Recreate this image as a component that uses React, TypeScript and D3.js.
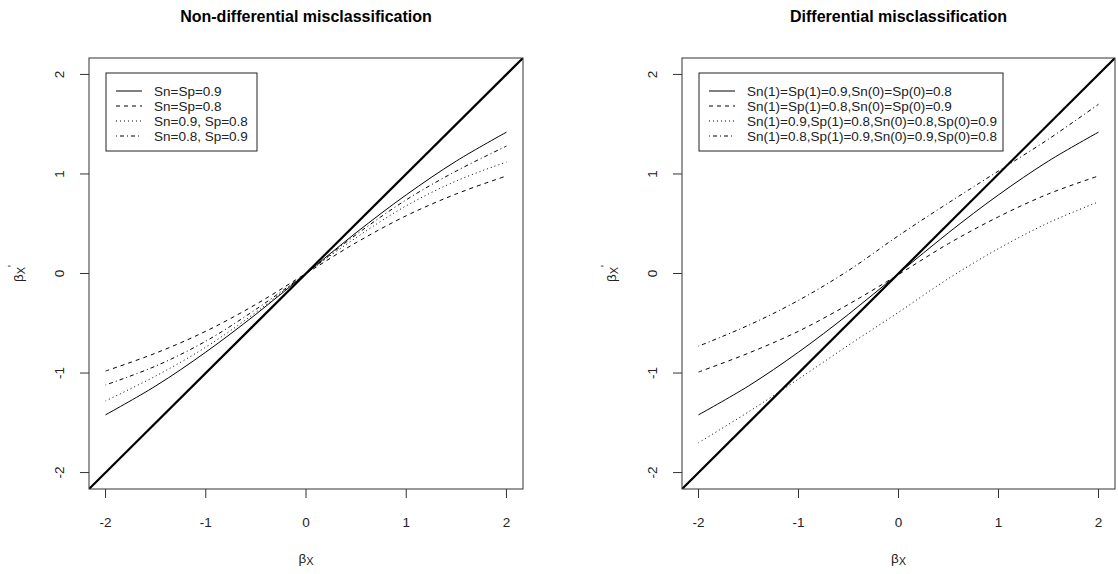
import React from "react";
import * as d3 from "d3";

const xVals = [-2, -1.5, -1, -0.5, 0, 0.5, 1, 1.5, 2];

// Non-differential misclassification
const ndSn9Sp9 = [-1.42, -1.13, -0.79, -0.41, 0, 0.41, 0.79, 1.13, 1.42];
const ndSn8Sp8 = [-0.98, -0.8, -0.58, -0.31, 0, 0.31, 0.58, 0.8, 0.98];
const ndSn9Sp8 = [-1.28, -1.03, -0.74, -0.39, 0, 0.36, 0.68, 0.93, 1.12];
const ndSn8Sp9 = [-1.12, -0.93, -0.68, -0.36, 0, 0.39, 0.74, 1.03, 1.28];

// Differential misclassification
const dA = [-1.42, -1.13, -0.79, -0.41, 0, 0.41, 0.79, 1.13, 1.42];
const dB = [-0.99, -0.8, -0.58, -0.31, -0.01, 0.3, 0.57, 0.8, 0.98];
const dC = [-1.7, -1.39, -1.06, -0.72, -0.39, -0.05, 0.25, 0.51, 0.72];
const dD = [-0.73, -0.52, -0.27, 0.03, 0.38, 0.71, 1.03, 1.35, 1.7];

const ticks = [-2, -1, 0, 1, 2];
const tickLabels = ["-2", "-1", "0", "1", "2"];

const ndLabels = ["Sn=Sp=0.9", "Sn=Sp=0.8", "Sn=0.9, Sp=0.8", "Sn=0.8, Sp=0.9"];
const dLabels = [
  "Sn(1)=Sp(1)=0.9,Sn(0)=Sp(0)=0.8",
  "Sn(1)=Sp(1)=0.8,Sn(0)=Sp(0)=0.9",
  "Sn(1)=0.9,Sp(1)=0.8,Sn(0)=0.8,Sp(0)=0.9",
  "Sn(1)=0.8,Sp(1)=0.9,Sn(0)=0.9,Sp(0)=0.8",
];

const dashes = [null, "4,4", "1,3", "1,3,4,3"];
const FONT = "'Liberation Sans', Arial, Helvetica, sans-serif";

type PanelProps = {
  title: string;
  left: number;
  right: number;
  series: number[][];
  labels: string[];
  legendW: number;
  id: string;
};

function Panel({ title, left, right, series, labels, legendW, id }: PanelProps) {
  const top = 58;
  const bottom = 489;
  const dom = 2.165;
  const x = d3.scaleLinear().domain([-dom, dom]).range([left, right]);
  const y = d3.scaleLinear().domain([-dom, dom]).range([bottom, top]);
  const line = d3
    .line<number>()
    .x((_, i) => x(xVals[i]))
    .y((d) => y(d))
    .curve(d3.curveCatmullRom.alpha(0.5));
  const cx = (left + right) / 2;
  const cy = (top + bottom) / 2;
  const lgLeft = left + 17;
  const lgTop = 73;
  const lgStep = 15;
  const lgFirst = 91;
  const lgBottom = lgFirst + lgStep * (labels.length - 1) + 15;
  return (
    <g>
      <defs>
        <clipPath id={id}>
          <rect x={left} y={top} width={right - left} height={bottom - top} />
        </clipPath>
      </defs>
      <text x={cx} y={16} textAnchor="middle" dominantBaseline="central" fontWeight="bold" fontSize={16} fontFamily={FONT}>
        {title}
      </text>
      <g clipPath={`url(#${id})`}>
        <line x1={x(-dom)} y1={y(-dom)} x2={x(dom)} y2={y(dom)} stroke="#000" strokeWidth={2.2} />
        {series.map((s, i) => (
          <path key={i} d={line(s) || ""} fill="none" stroke="#000" strokeWidth={1} strokeDasharray={dashes[i] || undefined} />
        ))}
      </g>
      <rect x={left} y={top} width={right - left} height={bottom - top} fill="none" stroke="#333" strokeWidth={1} />
      {ticks.map((t, i) => (
        <g key={"x" + i}>
          <line x1={x(t)} x2={x(t)} y1={bottom} y2={bottom + 9} stroke="#333" />
          <text x={x(t)} y={522} textAnchor="middle" dominantBaseline="central" fontSize={13.5} fontFamily={FONT} fill="#222">
            {tickLabels[i]}
          </text>
        </g>
      ))}
      {ticks.map((t, i) => (
        <g key={"y" + i}>
          <line x1={left - 9} x2={left} y1={y(t)} y2={y(t)} stroke="#333" />
          <text
            transform={`translate(${left - 30},${y(t)}) rotate(-90)`}
            textAnchor="middle"
            dominantBaseline="central"
            fontSize={13.5}
            fontFamily={FONT}
            fill="#222"
          >
            {tickLabels[i]}
          </text>
        </g>
      ))}
      <text x={cx} y={558} textAnchor="middle" dominantBaseline="central" fontSize={13.5} fontFamily={FONT} fill="#222">
        β<tspan dy={3} fontSize={11}>X</tspan>
      </text>
      <text
        transform={`translate(${left - 71},${cy}) rotate(-90)`}
        textAnchor="middle"
        dominantBaseline="central"
        fontSize={13.5}
        fontFamily={FONT}
        fill="#222"
      >
        β<tspan dy={3} fontSize={11}>X</tspan>
        <tspan dy={-9} fontSize={10}>'</tspan>
      </text>
      <rect x={lgLeft} y={lgTop} width={legendW} height={lgBottom - lgTop} fill="#fff" stroke="#222" strokeWidth={1} />
      {labels.map((lab, i) => (
        <g key={"l" + i}>
          <line
            x1={lgLeft + 10}
            x2={lgLeft + 36}
            y1={lgFirst + i * lgStep}
            y2={lgFirst + i * lgStep}
            stroke="#000"
            strokeDasharray={dashes[i] || undefined}
          />
          <text x={lgLeft + 48} y={lgFirst + i * lgStep} dominantBaseline="central" fontSize={13.5} fontFamily={FONT} fill="#222">
            {lab}
          </text>
        </g>
      ))}
    </g>
  );
}

export default function App() {
  return (
    <div style={{ position: "absolute", left: 0, top: 0, background: "#fff" }}>
      <svg width={1118} height={574} style={{ display: "block" }}>
        <rect width={1118} height={574} fill="#fff" />
        <Panel
          id="c1"
          title="Non-differential misclassification"
          left={89}
          right={523}
          series={[ndSn9Sp9, ndSn8Sp8, ndSn9Sp8, ndSn8Sp9]}
          labels={ndLabels}
          legendW={151}
        />
        <Panel
          id="c2"
          title="Differential misclassification"
          left={682}
          right={1115}
          series={[dA, dB, dC, dD]}
          labels={dLabels}
          legendW={304}
        />
      </svg>
    </div>
  );
}
